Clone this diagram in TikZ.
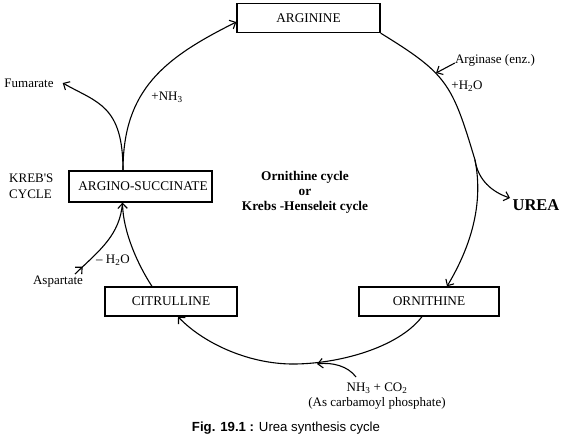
\documentclass[tikz,border=0pt]{standalone}
\usepackage{fontspec}
\setmainfont{Liberation Serif}
\newfontfamily\capfont{Liberation Sans}
\usetikzlibrary{arrows.meta,decorations.markings}
\begin{document}
\begin{tikzpicture}[x=1pt,y=-1pt,
  box/.style={draw,line width=1.3pt,minimum width=#1,minimum height=29pt,inner sep=0pt,font=\fontsize{13.3}{15}\selectfont},
  lbl/.style={font=\fontsize{13}{15.5}\selectfont,inner sep=0pt},
  line/.style={line width=1.1pt},
  flow/.style={line width=1.1pt,-{Straight Barb[length=5pt,width=9.5pt]}},
  midarrow/.style={line width=1.1pt,postaction={decorate},decoration={markings,mark=at position #1 with {\arrow{Straight Barb[length=5pt,width=9.5pt]}}}}
]
\useasboundingbox (0,0) rectangle (576,440);

% boxes
\node[box=143pt] (arg) at (308.5,18) {ARGININE\hspace{18pt}};
\node[box=143pt,minimum height=31pt] (as) at (140.5,186.5) {\hspace{5pt}ARGINO-SUCCINATE};
\node[box=132pt] (cit) at (171,301.5) {CITRULLINE\hspace{12pt}};
\node[box=140pt] (orn) at (429,301.5) {ORNITHINE\hspace{11pt}};

% labels
\node[lbl] (fum) at (29,83) {Fumarate};
\node[lbl,anchor=west,align=left] (kreb) at (9,186.5) {KREB\textquotesingle S\\CYCLE};
\node[lbl] (nh3) at (167,97) {+NH\textsubscript{3}};
\node[lbl] (argn) at (495,60) {Arginase (enz.)};
\node[lbl] (h2o) at (467,86) {+H\textsubscript{2}O};
\node[font=\bfseries\fontsize{16.5}{18}\selectfont,inner sep=0pt] (urea) at (536,205) {UREA};
\node[lbl] (asp) at (58,282) {Aspartate};
\node[lbl] (mh2o) at (113,260) {\textendash\ H\textsubscript{2}O};
\node[lbl,align=center] (nh) at (377,396) {NH\textsubscript{3} + CO\textsubscript{2}\\(As carbamoyl phosphate)};
\node[font=\bfseries\fontsize{13.3}{15}\selectfont,align=center,inner sep=0pt] (oc) at (305,192)
  {Ornithine cycle\\or\\Krebs -Henseleit cycle};
\node[font=\capfont\fontsize{13.2}{15}\selectfont,inner sep=0pt] (cap) at (286,428)
  {\textbf{Fig. 19.1 :} Urea synthesis cycle};

% helper coordinates
\coordinate (ubr) at (475,160);
\coordinate (bot) at (293,364);
\coordinate (aspS) at (75,274);
\coordinate (argTip) at (436,73);
\coordinate (nhS) at (356,377);
\coordinate (nhTip) at (317,364);
\coordinate (ureaTip) at (510,198);

% connectors
\draw[flow] ([xshift=-17.5pt]as.north) .. controls (123,90) and (164,58) .. ([yshift=-4pt]arg.west);
\draw[flow] ([xshift=-17.5pt]as.north) .. controls (123,105) and (97,102.6) .. ([xshift=9pt]fum.east);
\draw[line] (arg.south east) .. controls (447,74) and (452,83) .. (ubr);
\draw[flow] (ubr) .. controls (484,205) and (470,248) .. ([xshift=18pt]orn.north);
\draw[flow] (ubr) .. controls (478,180) and (492,192) .. (ureaTip);
\draw[line] ([xshift=-7pt]orn.south) .. controls (398,348) and (338,364) .. (bot);
\draw[flow] (bot) .. controls (247,364) and (202,342) .. ([xshift=7pt]cit.south);
\draw[flow] ([xshift=-19pt]cit.north) .. controls (138,265) and (123,232) .. ([xshift=-18pt]as.south);
\draw[midarrow=0.12] (aspS) .. controls (100,250) and (120,235) .. ([xshift=-18pt]as.south);
\draw[flow] ([yshift=-3pt]argn.west) -- (argTip);
\draw[flow] (nhS) .. controls (348,366) and (332,362) .. (nhTip);
\end{tikzpicture}
\end{document}
